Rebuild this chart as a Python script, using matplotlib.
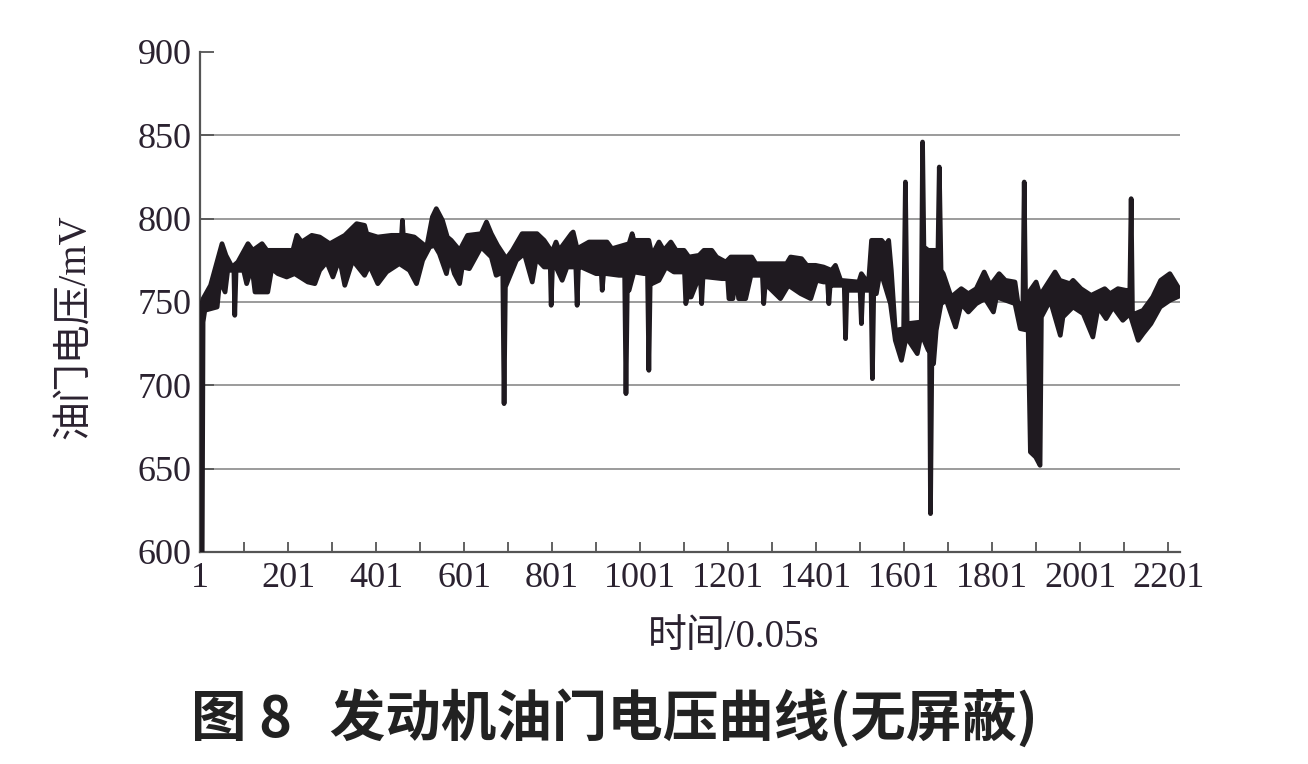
import numpy as np
import matplotlib.pyplot as plt

# upper edge of the voltage band (sample index, mV)
upper_x = [1, 8, 25, 51, 60, 74, 87, 110, 121, 142, 153, 212, 221, 232, 255,
           273, 296, 330, 357, 375, 380, 405, 436, 459, 461, 463, 470, 488, 516,
           529, 538, 552, 563, 572, 591, 609, 640, 652, 663, 677, 697, 711, 733,
           767, 783, 801, 810, 817, 845, 849, 858, 885, 926, 937, 976, 983, 987,
           1021, 1028, 1044, 1055, 1071, 1083, 1101, 1112, 1135, 1146, 1164,
           1175, 1196, 1207, 1255, 1264, 1334, 1343, 1368, 1380, 1400, 1418,
           1436, 1445, 1457, 1498, 1504, 1520, 1527, 1550, 1559, 1566, 1572,
           1581, 1600, 1604, 1608, 1640, 1643, 1646, 1656, 1678, 1681, 1685,
           1690, 1708, 1731, 1747, 1765, 1783, 1797, 1817, 1831, 1853, 1860,
           1871, 1874, 1877, 1901, 1910, 1944, 1955, 1978, 1985, 2003, 2026,
           2057, 2069, 2087, 2105, 2114, 2117, 2120, 2126, 2144, 2166, 2184,
           2205, 2228]
upper_y = [745, 752, 760, 785, 778, 771, 774, 785, 781, 785, 781, 781, 790, 786, 790,
           789, 785, 790, 797, 796, 791, 789, 790, 790, 799, 790, 790, 789, 783,
           801, 806, 799, 789, 787, 781, 790, 791, 798, 791, 784, 776, 781, 791,
           791, 787, 780, 786, 781, 791, 792, 782, 786, 786, 782, 785, 791, 787,
           787, 778, 786, 781, 786, 781, 781, 777, 778, 781, 781,
           777, 774, 777, 777, 773, 773, 777, 776, 772, 772, 771,
           769, 772, 763, 762, 767, 761, 787, 787, 784, 787, 769,
           733, 734, 822, 737, 738, 846, 783, 781, 781, 831, 769,
           767, 753, 758, 755, 758, 768, 760, 767, 763, 762, 749,
           749, 822, 753, 762, 754, 768, 763, 761, 763, 758, 754,
           758, 755, 758, 757, 757, 812, 743, 743, 745, 753, 763,
           767, 757]

# lower edge of the voltage band
lower_x = [1, 6, 8, 12, 40, 46, 58, 64, 78, 80, 83, 100, 107, 119, 126, 155,
           164, 178, 198, 216, 246, 262, 273, 289, 303, 318, 330, 348, 375, 386,
           405, 425, 454, 477, 493, 507, 523, 534, 545, 561, 568, 579, 591, 597,
           613, 640, 663, 674, 689, 692, 695, 720, 738, 756, 765, 783, 797, 799,
           802, 810, 824, 835, 855, 858, 861, 867, 901, 913, 915, 918, 924, 953,
           966, 969, 972, 976, 987, 1010, 1018, 1021, 1024, 1028, 1044, 1060,
           1078, 1102, 1105, 1108, 1117, 1135, 1138, 1141, 1144, 1153, 1187,
           1200, 1203, 1212, 1219, 1225, 1241, 1253, 1279, 1282, 1285, 1293,
           1320, 1338, 1366, 1389, 1402, 1418, 1427, 1430, 1433, 1436, 1465,
           1468, 1471, 1479, 1501, 1504, 1507, 1515, 1526, 1529, 1532, 1538,
           1547, 1570, 1581, 1595, 1606, 1631, 1640, 1656, 1659, 1661, 1664,
           1668, 1674, 1685, 1697, 1718, 1731, 1747, 1765, 1785, 1804, 1811,
           1853, 1865, 1883, 1888, 1900, 1910, 1913, 1933, 1956, 1962, 1981,
           1985, 2008, 2030, 2042, 2060, 2076, 2098, 2114, 2133, 2144, 2162,
           2183, 2205, 2230]
lower_y = [600, 600, 738, 745, 747, 763, 756, 769, 769, 742, 769, 769, 761, 771, 756, 756,
           770, 767, 765, 767, 762, 761, 769, 774, 765, 776, 760, 775, 766, 772,
           761, 768, 773, 769, 761, 775, 783, 784, 779, 767, 777, 767, 761, 771,
           770, 783, 777, 766, 768, 689, 759, 775, 779, 762, 776, 771, 771, 748,
           771, 771, 763, 771, 771, 748, 771, 771, 767, 767, 757, 767, 767, 766,
           766, 695, 757, 757, 768, 767, 767, 709, 761, 761, 763, 771,
           768, 768, 749, 753, 753, 765, 765, 749, 765, 765, 764,
           764, 752, 752, 766, 752, 752, 766, 766, 749, 759, 759,
           752, 760, 755, 752, 763, 762, 762, 749, 760, 760, 760,
           728, 757, 757, 757, 737, 757, 757, 757, 704, 755, 755,
           769, 749, 727, 715, 729, 719, 731, 721, 721, 623, 713,
           713, 733, 749, 751, 735, 749, 744, 749, 752, 744, 753,
           749, 734, 733, 660, 657, 652, 741, 751, 730, 741, 746,
           747, 743, 729, 747, 740, 747, 739, 743, 727, 731, 737,
           747, 751, 754]

yticks = [600, 650, 700, 750, 800, 850, 900]
xticks_major = list(range(1, 2202, 200))
xticks_minor = list(range(101, 2202, 200))

plt.rcParams['font.family'] = ['Liberation Serif', 'Noto Sans CJK SC']
txt = '#2b2230'
band = '#1f1a20'

fig = plt.figure(figsize=(13.08, 7.64), dpi=100)
ax = fig.add_axes([200/1308, 1 - 552/764, 980/1308, 500/764])

poly_x = np.concatenate([upper_x, lower_x[::-1]])
poly_y = np.concatenate([upper_y, lower_y[::-1]])
ax.fill(poly_x, poly_y, facecolor=band, edgecolor=band, linewidth=3.4,
        joinstyle='round', zorder=3)

ax.set_xlim(1, 2228)
ax.set_ylim(600, 900)
ax.set_yticks(yticks)
ax.set_xticks(xticks_major)
ax.set_xticks(xticks_minor, minor=True)

ax.grid(axis='y', color='#8a8a8a', linewidth=1.2)
ax.get_ygridlines()[-1].set_visible(False)
ax.set_axisbelow(True)

for s in ['top', 'right']:
    ax.spines[s].set_visible(False)
for s in ['left', 'bottom']:
    ax.spines[s].set_color('#555555')
    ax.spines[s].set_linewidth(1.6)

ax.tick_params(axis='both', which='both', direction='in', length=7, width=1.3,
               color='#555555', labelsize=26, labelcolor=txt, pad=7)
ax.tick_params(axis='y', length=10, pad=6)

ax.set_ylabel('油门电压/mV', fontsize=28, color=txt)
ax.yaxis.set_label_coords(-0.108, 0.45)
ax.set_xlabel('时间/0.05s', fontsize=28, color=txt)
ax.xaxis.set_label_coords(0.545, -0.135)

fig.text(0.47, 0.06, '图 8   发动机油门电压曲线(无屏蔽)', fontsize=40,
         fontweight='bold', color='#222222', ha='center', va='center',
         family=['Noto Sans CJK SC', 'DejaVu Sans'])

fig.savefig('out.png', dpi=100)
